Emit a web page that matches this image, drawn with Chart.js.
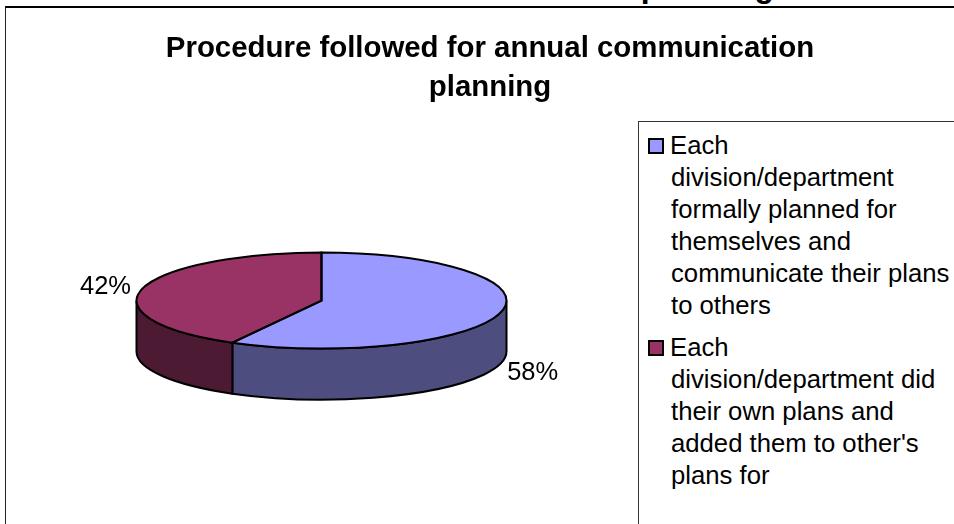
<!DOCTYPE html>
<html>
<head>
<meta charset="utf-8">
<title>Procedure followed for annual communication planning</title>
<script src="https://cdn.jsdelivr.net/npm/chart.js@4/dist/chart.umd.min.js"></script>
<style>
    html, body { margin: 0; padding: 0; width: 954px; height: 524px; overflow: hidden; background: #fff; font-family: "Liberation Sans", Arial, sans-serif; }
    .page-heading { position: absolute; left: 0; top: -30px; width: 954px; text-align: right; padding-right: 180px; box-sizing: border-box; font-size: 32px; line-height: 32px; font-weight: bold; white-space: nowrap; }
    .frame { position: absolute; left: 5px; top: 6px; width: 1000px; height: 600px; box-sizing: border-box; border-left: 1px solid #222; border-top: 2px solid #000; background: #fff; }
    #chart { position: absolute; left: 0; top: 0; }
    .legend { position: absolute; left: 632px; top: 113px; width: 400px; height: 500px; box-sizing: border-box; border: 1px solid #333; background: #fff; padding: 7px 0 0 10px; font-size: 25.7px; line-height: 32px; color: #000; }
    .legend-item { width: 307px; padding-left: 22px; box-sizing: border-box; margin-bottom: 10px; }
    .legend-swatch { display: inline-block; width: 12px; height: 12px; border: 2px solid #000; margin: 0 6px 0 -23px; }
</style>
</head>
<body>
<div class="page-heading">planning</div>
<div class="frame">
    <canvas id="chart" width="968" height="540"></canvas>
    <div class="legend" id="legend"></div>
</div>
<script>
const titleLines = ['Procedure followed for annual communication', 'planning'];
const categories = [
    'Each division/department formally planned for themselves and communicate their plans to others',
    "Each division/department did their own plans and added them to other's plans for"
];
const values = [58, 42];
const topColors = ['#9999FF', '#993366'];
const sideColors = ['#4D4D80', '#4D1A33'];

const ELLIPSE_RATIO = 48 / 185;
const DEPTH = 51;
const LEGEND_ROOM = 337;

const pie3d = {
    id: 'pie3d',
    // the title stays centred on the whole chart, the pie only gets what the legend leaves
    afterLayout(chart) {
        chart.chartArea.right -= LEGEND_ROOM;
        chart.chartArea.width -= LEGEND_ROOM;
    },
    beforeDatasetsDraw(chart) {
        const ctx = chart.ctx;
        const arcs = chart.getDatasetMeta(0).data;
        ctx.save();
        ctx.lineWidth = 2;
        ctx.strokeStyle = '#000';
        arcs.forEach((arc, i) => {
            const ry = arc.outerRadius * ELLIPSE_RATIO;
            // only the part of the rim in the lower half can be seen
            const a0 = Math.max(arc.startAngle, 0);
            const a1 = Math.min(arc.endAngle, Math.PI);
            if (a1 <= a0) return;
            ctx.beginPath();
            ctx.ellipse(arc.x, arc.y, arc.outerRadius, ry, 0, a0, a1);
            ctx.ellipse(arc.x, arc.y + DEPTH, arc.outerRadius, ry, 0, a1, a0, true);
            ctx.closePath();
            ctx.fillStyle = sideColors[i];
            ctx.fill();
            ctx.stroke();
        });
        ctx.restore();

        // squash the library's own arcs into the top of the disc
        const first = arcs[0];
        ctx.save();
        ctx.translate(first.x, first.y);
        ctx.scale(1, ELLIPSE_RATIO);
        ctx.translate(-first.x, -first.y);
    },
    afterDatasetsDraw(chart) {
        const ctx = chart.ctx;
        const arcs = chart.getDatasetMeta(0).data;
        ctx.restore();

        ctx.save();
        ctx.lineWidth = 2;
        ctx.strokeStyle = '#000';
        arcs.forEach(arc => {
            const ry = arc.outerRadius * ELLIPSE_RATIO;
            ctx.beginPath();
            ctx.moveTo(arc.x, arc.y);
            ctx.ellipse(arc.x, arc.y, arc.outerRadius, ry, 0, arc.startAngle, arc.endAngle);
            ctx.closePath();
            ctx.stroke();
        });

        // percent labels outside the disc
        ctx.fillStyle = '#000';
        ctx.font = '25.5px "Liberation Sans", Arial, sans-serif';
        ctx.textAlign = 'center';
        ctx.textBaseline = 'middle';
        const total = values.reduce((a, b) => a + b, 0);
        arcs.forEach((arc, i) => {
            const mid = (arc.startAngle + arc.endAngle) / 2;
            const ry = arc.outerRadius * ELLIPSE_RATIO;
            const lower = Math.sin(mid) > 0;
            const x = arc.x + Math.cos(mid) * (arc.outerRadius + (lower ? 33 : 38));
            const y = arc.y + Math.sin(mid) * ry + (lower ? DEPTH + 9 : -2);
            ctx.fillText(Math.round(values[i] / total * 100) + '%', x, y);
        });
        ctx.restore();
    }
};

function buildLegend() {
    const box = document.getElementById('legend');
    categories.forEach((label, i) => {
        const item = document.createElement('div');
        item.className = 'legend-item';
        const swatch = document.createElement('span');
        swatch.className = 'legend-swatch';
        swatch.style.background = topColors[i];
        item.appendChild(swatch);
        item.appendChild(document.createTextNode(label));
        box.appendChild(item);
    });
}

new Chart(document.getElementById('chart'), {
    type: 'pie',
    data: {
        labels: categories,
        datasets: [{
            data: values,
            backgroundColor: topColors,
            borderWidth: 0,
            radius: 185
        }]
    },
    options: {
        responsive: false,
        animation: false,
        layout: { padding: { bottom: 54 } },
        plugins: {
            legend: { display: false },
            tooltip: { enabled: false },
            title: {
                display: true,
                text: titleLines,
                color: '#000',
                font: { family: '"Liberation Sans", Arial, sans-serif', size: 29.4, weight: 'bold', lineHeight: 1.33 },
                padding: { top: 21, bottom: 0 }
            }
        }
    },
    plugins: [pie3d]
});
buildLegend();
</script>
</body>
</html>
